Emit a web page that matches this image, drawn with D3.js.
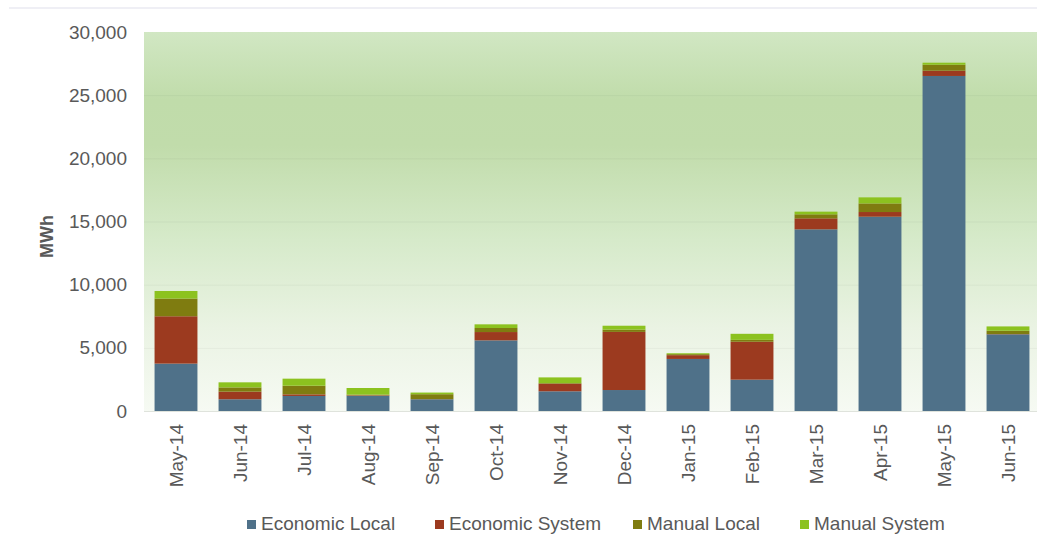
<!DOCTYPE html>
<html>
<head>
	<title>Demand response MWh by month</title>
	<style type="text/css">
		body {
			margin: 0;
			background: #fff;
			font-family: "Liberation Sans", Arial, sans-serif;
		}
		.tick text {
			fill: #595959;
		}
	</style>
	<script src="https://d3js.org/d3.v7.min.js"></script>
</head>
<body>
<div id="chart"></div>
<script type="text/javascript">
	var months = ["May-14", "Jun-14", "Jul-14", "Aug-14", "Sep-14", "Oct-14", "Nov-14",
		"Dec-14", "Jan-15", "Feb-15", "Mar-15", "Apr-15", "May-15", "Jun-15"];

	var seriesNames = ["Economic Local", "Economic System", "Manual Local", "Manual System"];
	var seriesColors = ["#4f7189", "#9c3a1f", "#7f7c10", "#8cc21f"];

	var economicLocal  = [3750, 930, 1190, 1200, 930, 5590, 1560, 1660, 4120, 2480, 14380, 15380, 26520, 6070];
	var economicSystem = [3750, 600, 130, 40, 10, 660, 600, 4600, 300, 3000, 870, 370, 420, 20];
	var manualLocal    = [1400, 340, 680, 60, 390, 320, 50, 180, 80, 150, 320, 680, 470, 260];
	var manualSystem   = [600, 400, 560, 520, 130, 290, 450, 310, 70, 480, 210, 480, 160, 345];

	var yTicks = [0, 5000, 10000, 15000, 20000, 25000, 30000];

	var rows = months.map(function(m, i) {
		return {
			month: m,
			"Economic Local": economicLocal[i],
			"Economic System": economicSystem[i],
			"Manual Local": manualLocal[i],
			"Manual System": manualSystem[i]
		};
	});

	var svg = d3.select("#chart").append("svg")
		.attr("width", 1037)
		.attr("height", 544);

	var margin = {top: 32, right: -3, bottom: 133, left: 144},
		width = 1037 - margin.left - margin.right,
		height = 544 - margin.top - margin.bottom;

	var x = d3.scaleBand().domain(months).range([0, width]).paddingInner(0.33).paddingOuter(0.165),
		y = d3.scaleLinear().domain([0, 30000]).range([height, 0]);

	var color = d3.scaleOrdinal().domain(seriesNames).range(seriesColors);

	// faint rule across the top
	svg.append("rect")
		.attr("x", 9).attr("y", 7)
		.attr("width", 1028).attr("height", 2)
		.attr("fill", "#efeff5");

	var defs = svg.append("defs");
	var grad = defs.append("linearGradient")
		.attr("id", "bg")
		.attr("x1", 0).attr("y1", 0).attr("x2", 0).attr("y2", 1);
	[["0%", "#d1e7c3"], ["18%", "#c0dcaa"], ["30%", "#c1dcab"], ["55%", "#d6eaca"],
	 ["78%", "#eaf3e3"], ["100%", "#f6faf3"]].forEach(function(s) {
		grad.append("stop").attr("offset", s[0]).attr("stop-color", s[1]);
	});

	var g = svg.append("g")
		.attr("transform", "translate(" + margin.left + "," + margin.top + ")");

	g.append("rect")
		.attr("width", 1037 - margin.left)
		.attr("height", height)
		.attr("fill", "url(#bg)");

	// gridlines
	g.selectAll(".grid")
		.data(yTicks.slice(1, -1))
		.enter().append("line")
		.attr("x1", 0).attr("x2", 1037 - margin.left)
		.attr("y1", function(d) { return y(d) + 0.5; })
		.attr("y2", function(d) { return y(d) + 0.5; })
		.attr("stroke", "#000")
		.attr("stroke-opacity", 0.04);

	g.append("line")
		.attr("x1", 0).attr("x2", 1037 - margin.left)
		.attr("y1", height + 0.5).attr("y2", height + 0.5)
		.attr("stroke", "#dfe3dc");

	var stack = d3.stack().keys(seriesNames)(rows);

	g.selectAll(".series")
		.data(stack)
		.enter().append("g")
		.attr("class", "series")
		.attr("fill", function(d) { return color(d.key); })
		.selectAll("rect")
		.data(function(d) { return d; })
		.enter().append("rect")
		.attr("x", function(d) { return x(d.data.month); })
		.attr("y", function(d) { return y(d[1]); })
		.attr("width", x.bandwidth())
		.attr("height", function(d) { return y(d[0]) - y(d[1]); });

	var axisY = d3.axisLeft(y).tickValues(yTicks).tickFormat(d3.format(",")).tickSize(0).tickPadding(17);
	g.append("g")
		.attr("class", "y axis")
		.call(axisY)
		.call(function(a) { a.select(".domain").remove(); })
		.selectAll("text")
		.attr("font-size", 19)
		.attr("font-family", "Liberation Sans, Arial, sans-serif");

	var axisX = d3.axisBottom(x).tickSize(0).tickPadding(0);
	g.append("g")
		.attr("class", "x axis")
		.attr("transform", "translate(0," + height + ")")
		.call(axisX)
		.call(function(a) { a.select(".domain").remove(); })
		.selectAll("text")
		.attr("font-size", 19)
		.attr("font-family", "Liberation Sans, Arial, sans-serif")
		.attr("text-anchor", "end")
		.attr("transform", "rotate(-90)")
		.attr("x", -13)
		.attr("y", 0)
		.attr("dy", "0.35em");

	svg.append("text")
		.attr("transform", "translate(53," + (margin.top + height / 2 + 15) + ") rotate(-90)")
		.attr("text-anchor", "middle")
		.attr("font-size", 18)
		.attr("font-weight", "bold")
		.attr("fill", "#595959")
		.text("MWh");

	// legend
	var legendX = [247, 435, 633, 800];
	var legend = svg.selectAll(".legend")
		.data(seriesNames)
		.enter().append("g")
		.attr("class", "legend")
		.attr("transform", function(d, i) { return "translate(" + legendX[i] + ",520)"; });

	legend.append("rect")
		.attr("width", 9).attr("height", 9)
		.attr("fill", function(d) { return color(d); });

	legend.append("text")
		.attr("x", 14).attr("y", 10)
		.attr("font-size", 19)
		.attr("fill", "#595959")
		.text(function(d) { return d; });
</script>
</body>
</html>
